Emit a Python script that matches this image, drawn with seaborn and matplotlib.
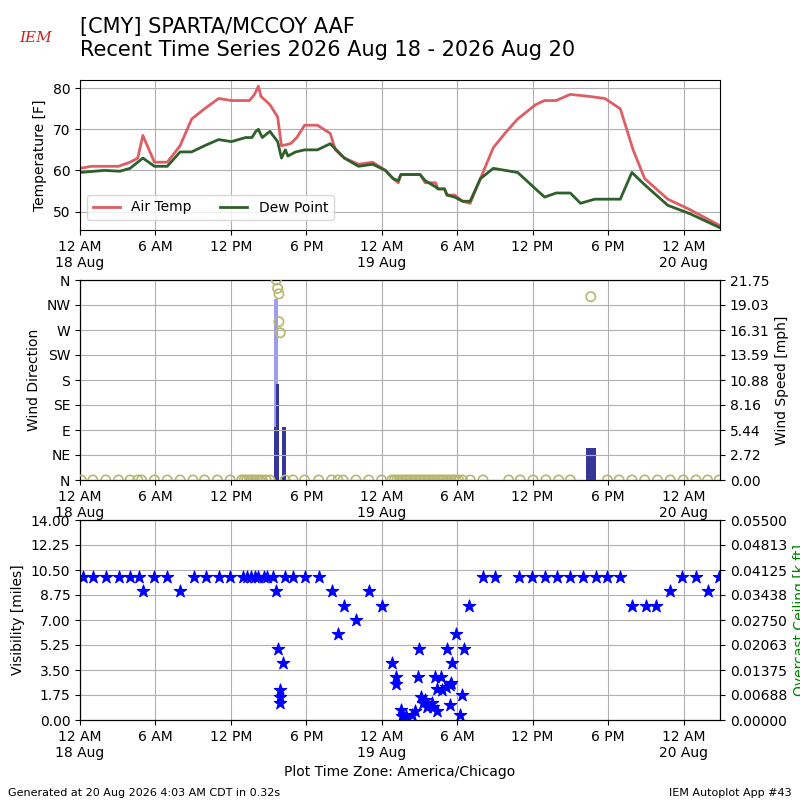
import pandas as pd
import matplotlib.pyplot as plt
import seaborn as sns
import numpy as np

# Dane: czas w godzinach od 18 Aug 00:00 CDT (odczytane w skali 12.83 px/h, poprawka ponizej)
temp_h = [0, 0.9, 2.2, 3.0, 3.9, 4.5, 4.9, 5.8, 6.8, 7.8, 8.7, 9.7, 10.8, 11.8, 13.2, 13.6, 13.9,
          14.1, 14.8, 15.4, 15.7, 16.4, 16.9, 17.5, 18.5, 19.5, 19.9, 20.6, 21.7, 22.8, 23.8, 24.4,
          24.8, 25.0, 26.5, 26.9, 27.7, 27.9, 28.4, 28.6, 29.2, 29.8, 30.4, 31.2, 32.2, 33.1, 34.1,
          35.5, 36.2, 37.1, 38.2, 39.7, 40.9, 42.1, 43.1, 44.0, 45.8, 47.5, 49.9]
air_temp = [60.5, 61, 61, 61, 62, 63, 68.5, 62, 62, 66, 72.5, 75, 77.5, 77, 77, 78.5, 80.5,
            78, 76, 73, 66, 66.5, 68, 71, 71, 69, 65, 63, 61.5, 62, 60, 58,
            57, 59, 59, 57, 57, 55.5, 55.5, 54, 54, 52.5, 52, 58, 65.5, 69, 72.5,
            76, 77, 77, 78.5, 78, 77.5, 75, 65, 58, 53, 50.5, 46.5]
dew_h = [0, 1.9, 3.1, 3.9, 4.9, 5.8, 6.8, 7.8, 8.7, 9.7, 10.8, 11.8, 12.9, 13.4, 13.7, 13.9, 14.2,
         14.8, 15.4, 15.7, 16.0, 16.2, 16.8, 17.5, 18.5, 19.5, 20.6, 21.7, 22.8, 23.8, 24.4, 24.8,
         25.0, 26.5, 26.9, 27.7, 27.9, 28.4, 28.6, 29.2, 29.8, 30.4, 31.2, 32.2, 34.1, 35.5, 36.2,
         37.1, 38.2, 39.0, 40.1, 42.1, 43.0, 44.0, 45.8, 47.5, 49.9]
dew_point = [59.5, 60, 59.8, 60.5, 63, 61, 61, 64.5, 64.5, 66, 67.5, 67, 68, 68, 69.5, 70, 68,
             69.5, 67, 63, 65, 63.5, 64.5, 65, 65, 66.5, 63, 61, 61.5, 60, 58, 57.5,
             59, 59, 57.5, 56, 55.5, 55.5, 54, 53.5, 52.5, 52.5, 58, 60.5, 59.5, 55.5, 53.5,
             54.5, 54.5, 52, 53, 53, 59.5, 56.5, 51.5, 49.5, 46]

wind_h = [15.2, 15.4, 15.9, 39.8]
wind_speed = [5.8, 10.4, 5.8, 3.5]
gust_h = [15.3]
gust_speed = [19.7]
dir_h = [0.1, 1.0, 2.0, 3.0, 3.9, 4.5, 4.8, 5.8, 6.8, 7.8, 8.8, 9.7, 10.7, 11.7, 12.6, 12.8, 13.0,
         13.2, 13.4, 13.6, 13.8, 14.0, 14.2, 14.5, 14.8, 15.3, 15.4, 15.5, 15.5, 15.6, 16.0, 16.6,
         17.5, 18.6, 19.6, 20.1, 20.5, 21.5, 22.5, 23.5, 24.3, 24.5, 24.7, 24.9, 25.1, 25.3, 25.5,
         25.7, 25.9, 26.1, 26.3, 26.5, 26.7, 26.9, 27.1, 27.3, 27.5, 27.7, 27.9, 28.1, 28.3, 28.5,
         28.7, 28.9, 29.1, 29.3, 29.5, 29.8, 30.4, 31.4, 33.4, 34.3, 35.3, 36.3, 37.3, 38.2, 39.8,
         41.1, 42.0, 43.0, 44.0, 45.0, 46.0, 47.0, 48.0, 48.9, 49.8]
wind_dir = [0] * 25 + [360, 345, 335, 285, 265] + [0] * 46 + [330] + [0] * 10

vis_h = [0.2, 1.0, 2.0, 3.0, 3.9, 4.6, 5.8, 6.8, 8.9, 9.8, 10.8, 11.7, 12.7, 13.0, 13.3, 13.6, 13.9,
         14.3, 14.6, 15.0, 16.0, 16.6, 17.5, 18.6, 31.4, 32.3, 34.2, 35.2, 36.2, 37.2, 38.2, 39.2,
         40.2, 41.1, 42.1, 46.9, 48.0, 49.8,
         4.9, 7.8, 15.3, 19.6, 22.5, 46.0, 48.9,
         20.6, 23.5, 30.3, 43.0, 44.1, 44.9,
         21.5, 20.1, 29.3,
         15.4, 26.4, 28.6, 29.9, 15.8, 24.3, 29.0,
         24.6, 26.3, 27.7, 28.1, 24.6,
         15.6, 15.6, 15.6,
         25.0, 25.1, 25.4, 25.9, 26.1, 26.6, 26.7, 26.9, 27.0, 27.4, 27.5, 27.8,
         27.8, 28.2, 28.5, 28.8, 28.9, 28.8, 29.8, 29.6]
visibility = [10] * 38 + [9] * 7 + [8] * 6 + [7, 6, 6] + [5, 5, 5, 5, 4, 4, 4] + [3, 3, 3, 3, 2.5] + \
             [2.1, 1.6, 1.2] + [0.7, 0.3, 0.3, 0.35, 0.6, 1.6, 1.2, 1.4, 0.9, 1.2, 0.9, 0.6] + \
             [2.2, 2.1, 2.3, 2.45, 2.6, 1.05, 1.75, 0.35]

tick_h = [0, 6, 12, 18, 24, 30, 36, 42, 48]
tick_labels = ['12 AM\n18 Aug', '6 AM', '12 PM', '6 PM', '12 AM\n19 Aug', '6 AM', '12 PM', '6 PM',
               '12 AM\n20 Aug']

# Poprawka skali czasu (12.83 px/h -> 12.57 px/h)
fix = 12.83 / 12.57
temp_h, dew_h, wind_h, gust_h, dir_h, vis_h = [np.array(v) * fix for v in
                                               (temp_h, dew_h, wind_h, gust_h, dir_h, vis_h)]

# Wykres
fig = plt.figure(figsize=(8, 8), dpi=100)
ax1 = fig.add_axes([0.1, 0.7125, 0.8, 0.1875])
ax2 = fig.add_axes([0.1, 0.4, 0.8, 0.25])
ax3 = fig.add_axes([0.1, 0.1, 0.8, 0.25])

sns.lineplot(x=temp_h, y=air_temp, ax=ax1, color='#dd5e65', linewidth=2, label='Air Temp')
sns.lineplot(x=dew_h, y=dew_point, ax=ax1, color='#2f5f2a', linewidth=2, label='Dew Point')
ax1.set_ylabel('Temperature [F]')
ax1.set_ylim(45.5, 82)
ax1.legend(loc='lower left', ncol=2, bbox_to_anchor=(0.0, 0.02))

# Wiatr
ax2b = ax2.twinx()
ax2b.bar(gust_h, gust_speed, width=0.3, color='#9c9cf5', zorder=2)
ax2b.bar(wind_h[:3], wind_speed[:3], width=0.25, color='#363699', zorder=3)
ax2b.bar(wind_h[3:], wind_speed[3:], width=0.8, color='#363699', zorder=3)
ax2b.set_ylim(0, 21.75)
ax2b.set_yticks(np.linspace(0, 21.75, 9))
ax2b.set_yticklabels([f'{v:.2f}' for v in np.linspace(0, 21.75, 9)])
ax2b.set_ylabel('Wind Speed [mph]')
sns.scatterplot(x=dir_h, y=wind_dir, ax=ax2, facecolors='none', edgecolor='#b5b86b', s=45,
                linewidth=1.2, zorder=4)
ax2.set_zorder(ax2b.get_zorder() + 1)
ax2.patch.set_visible(False)
ax2.set_ylim(0, 360)
ax2.set_yticks(range(0, 361, 45))
ax2.set_yticklabels(['N', 'NE', 'E', 'SE', 'S', 'SW', 'W', 'NW', 'N'])
ax2.set_ylabel('Wind Direction')

# Widzialnosc
sns.scatterplot(x=vis_h, y=visibility, ax=ax3, marker='*', color='blue', edgecolor='blue', s=90)
ax3.set_ylim(0, 14)
ax3.set_yticks(np.linspace(0, 14, 9))
ax3.set_yticklabels([f'{v:.2f}' for v in np.linspace(0, 14, 9)])
ax3.set_ylabel('Visibility [miles]')
ax3b = ax3.twinx()
ax3b.set_ylim(0, 0.055)
ax3b.set_yticks(np.linspace(0, 0.055, 9))
ax3b.set_yticklabels([f'{v:.5f}' for v in np.linspace(0, 0.055, 9)])
ax3b.set_ylabel('Overcast Ceiling [k ft]', color='green')
ax3.set_xlabel('Plot Time Zone: America/Chicago')

for ax in (ax1, ax2, ax3):
    ax.set_xlim(0, 50.9)
    ax.set_xticks(tick_h)
    ax.set_xticklabels(tick_labels)
    ax.grid(True)
    ax.set_axisbelow(True)

fig.text(0.1, 0.952, '[CMY] SPARTA/MCCOY AAF\nRecent Time Series 2026 Aug 18 - 2026 Aug 20',
         fontsize=15, va='center')
fig.text(0.045, 0.953, 'IEM', color='#cc2222', fontsize=11, style='italic', family='serif',
         ha='center', va='center')
fig.text(0.01, 0.005, 'Generated at 20 Aug 2026 4:03 AM CDT in 0.32s', fontsize=8)
fig.text(0.99, 0.005, 'IEM Autoplot App #43', fontsize=8, ha='right')

fig.savefig('out.png')
